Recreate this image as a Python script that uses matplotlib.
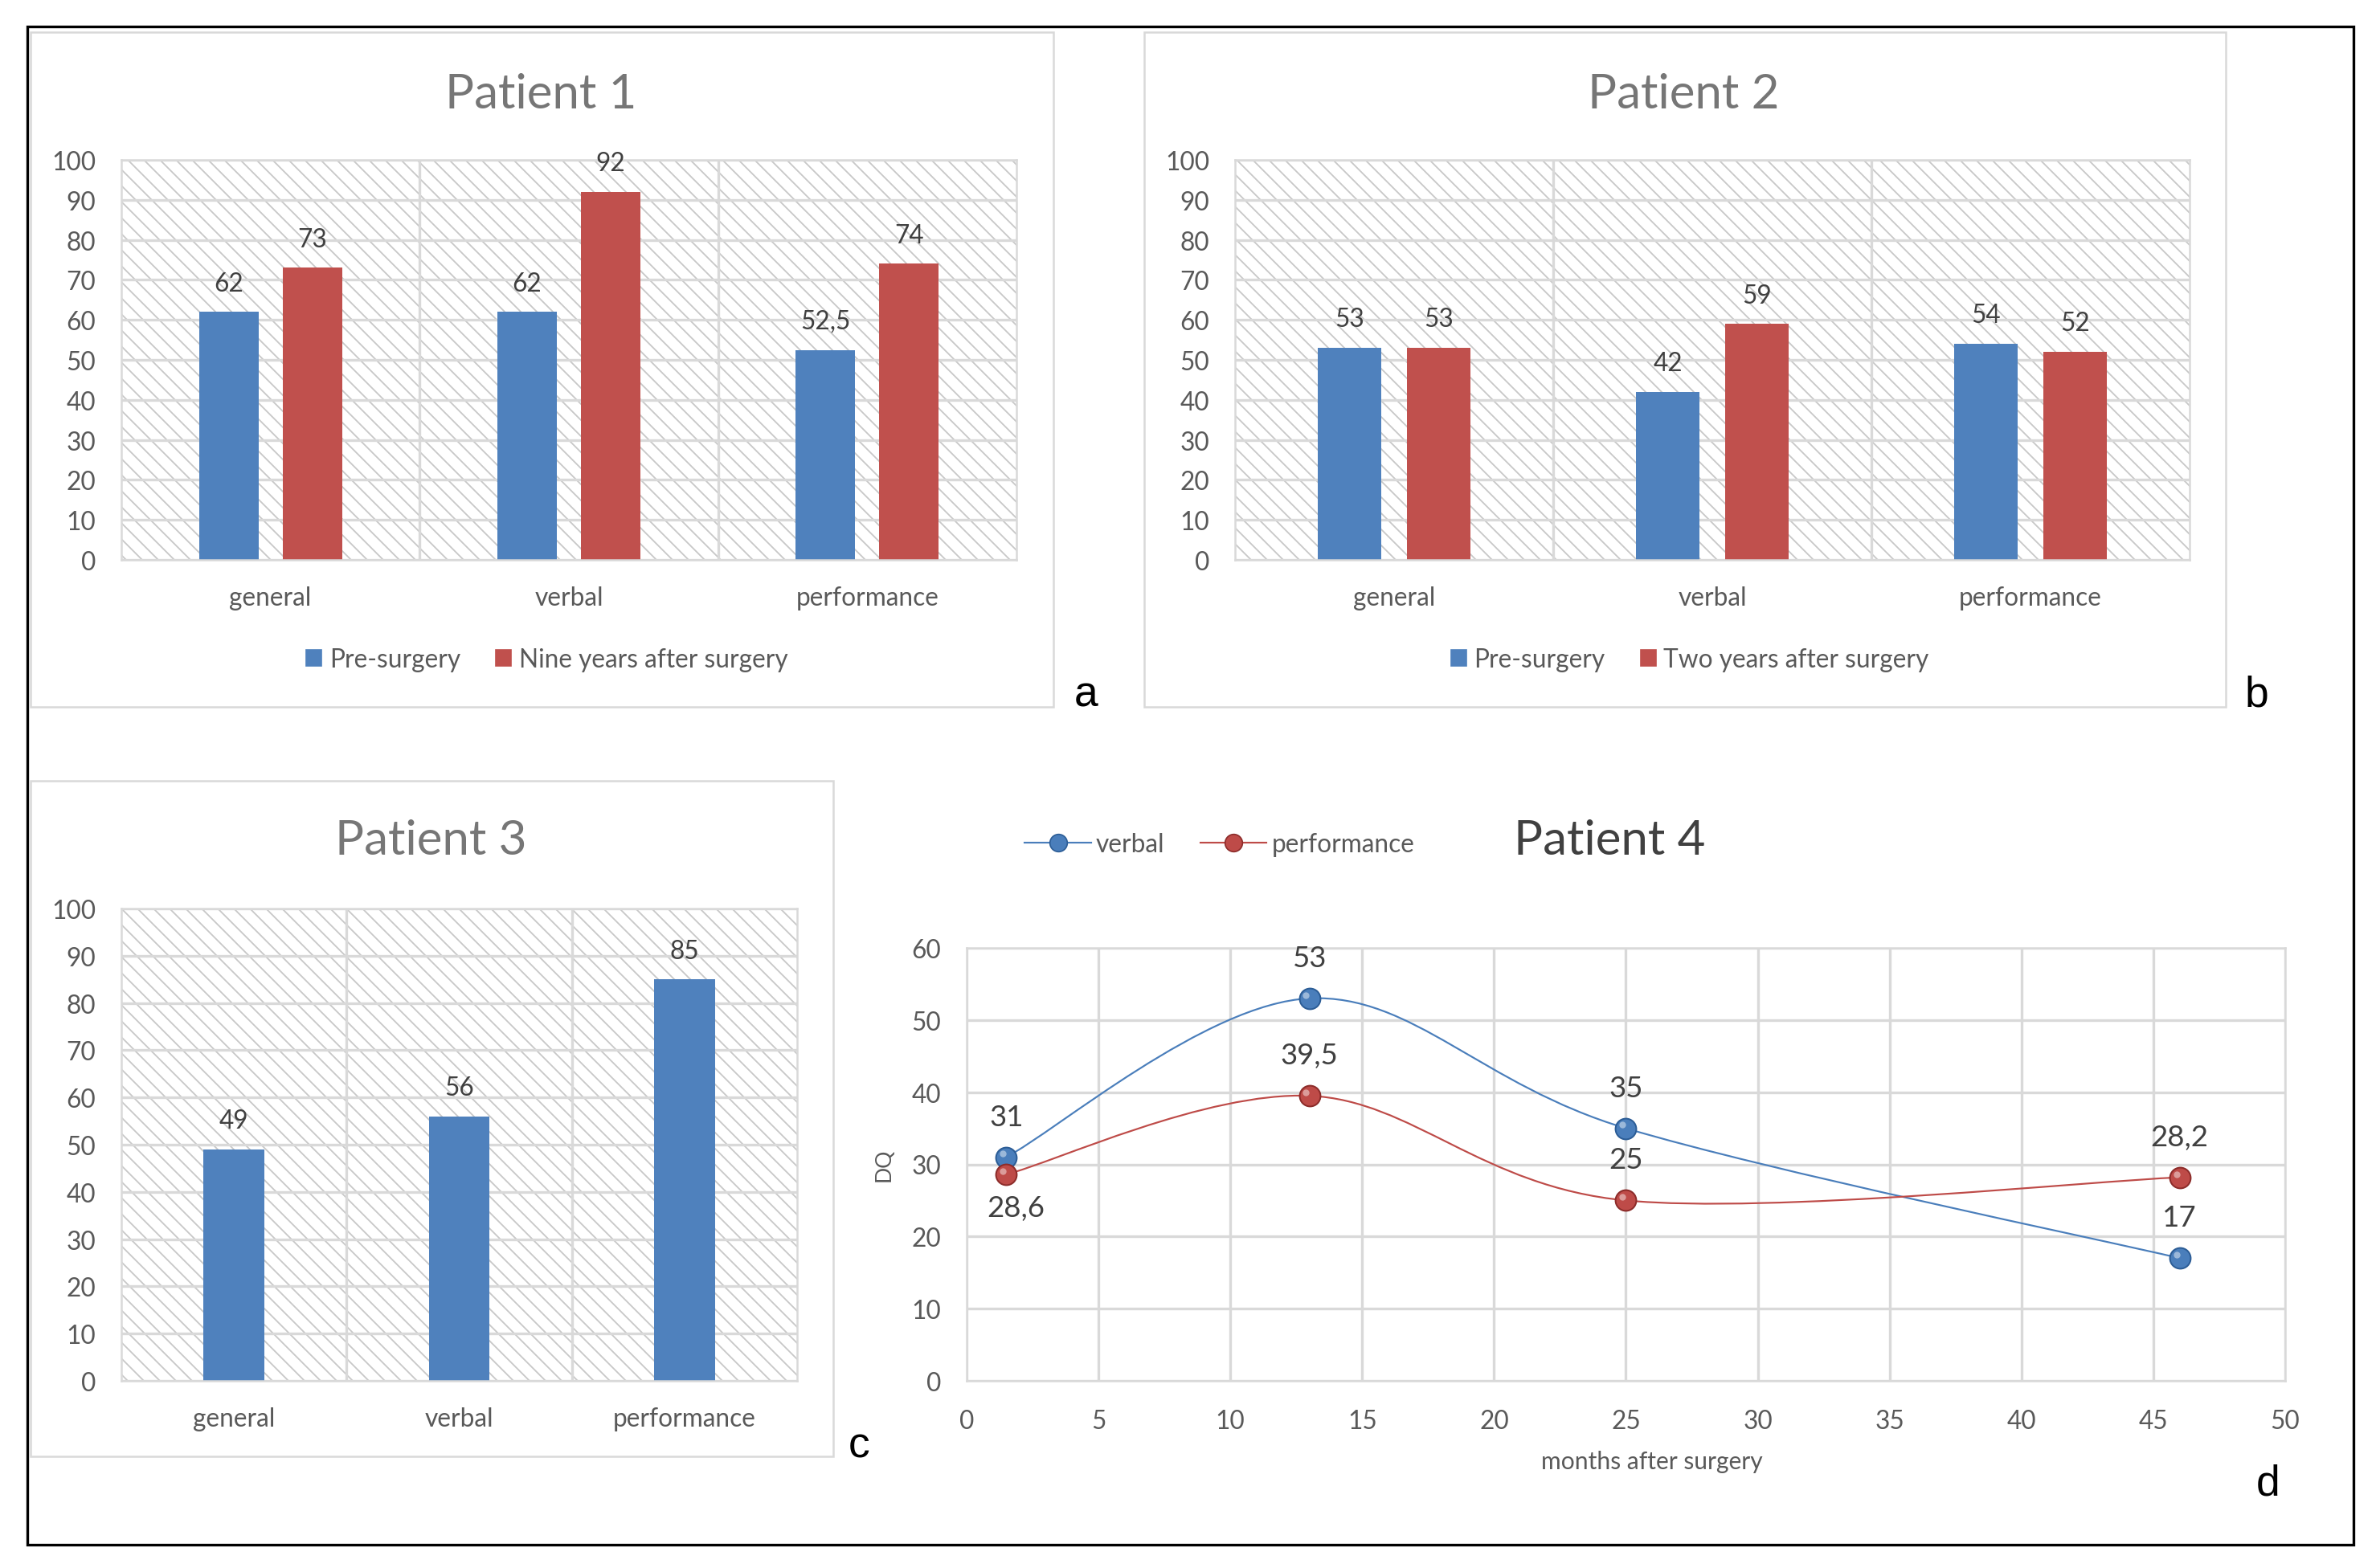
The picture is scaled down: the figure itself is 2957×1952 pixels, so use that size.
import numpy as np
import matplotlib
matplotlib.use("Agg")
import matplotlib.pyplot as plt
from matplotlib.patches import Rectangle, Patch, PathPatch
from matplotlib.path import Path
from matplotlib.lines import Line2D
from matplotlib.ticker import MultipleLocator, FixedLocator
import matplotlib.transforms as mtransforms

# data
categories = ["general", "verbal", "performance"]
p1_pre = [62, 62, 52.5]
p1_post = [73, 92, 74]
p2_pre = [53, 42, 54]
p2_post = [53, 59, 52]
p3_vals = [49, 56, 85]
p4_months = [1.5, 13, 25, 46]
p4_verbal = [31, 53, 35, 17]
p4_perf = [28.6, 39.5, 25, 28.2]

BLUE = "#4f81bd"
RED = "#c0504d"
GRID = "#d9d9d9"
TXT = "#595959"

plt.rcParams["font.family"] = ["Lato", "DejaVu Sans"]
plt.rcParams["hatch.linewidth"] = 1.1

DPI = 120
fig = plt.figure(figsize=(2957 / DPI, 1953 / DPI), dpi=DPI)


def fmt(v):
    s = ("%g" % v)
    return s.replace(".", ",")


def panel_box(x0, y0, x1, y1, **kw):
    W, H = 2957, 1953
    r = Rectangle((x0 / W, 1 - y1 / H), (x1 - x0) / W, (y1 - y0) / H,
                  transform=fig.transFigure, fill=False, **kw)
    fig.patches.append(r)


def ax_rect(x0, y0, x1, y1):
    W, H = 2957, 1953
    return [x0 / W, 1 - y1 / H, (x1 - x0) / W, (y1 - y0) / H]


def style_bar_axes(ax, n):
    ax.set_xlim(-0.5, n - 0.5)
    ax.set_ylim(0, 100)
    ax.add_patch(Rectangle((0, 0), 1, 1, transform=ax.transAxes, facecolor="white",
                           edgecolor="#c8c8c8", lw=0, hatch="\\\\", zorder=0.1))
    ax.yaxis.set_major_locator(MultipleLocator(10))
    ax.set_xticks(range(n))
    ax.set_xticklabels(categories[:n])
    ax.xaxis.set_minor_locator(FixedLocator([i + 0.5 for i in range(n - 1)]))
    ax.set_axisbelow(True)
    ax.grid(axis="y", which="major", color=GRID, lw=2.0)
    ax.grid(axis="x", which="minor", color=GRID, lw=2.0)
    for s in ax.spines.values():
        s.set_color(GRID)
        s.set_linewidth(1.5)
    ax.tick_params(axis="y", length=0, pad=19, labelsize=19, labelcolor=TXT)
    ax.tick_params(axis="x", which="both", length=0, pad=19, labelsize=19, labelcolor=TXT)


def bar_labels(ax, xs, vals):
    for x, v in zip(xs, vals):
        ax.annotate(fmt(v), (x, v), xytext=(0, 16), textcoords="offset points",
                    ha="center", va="baseline", fontsize=19, color="#404040")


# frame round everything
fig.patches.append(Rectangle((34 / 2957, 1 - 1924 / 1953), 2895 / 2957, 1890 / 1953,
                             transform=fig.transFigure, fill=False, edgecolor="black", lw=2))

# Panel a
panel_box(38, 41, 1311, 881, edgecolor=GRID, lw=1.5)
ax1 = fig.add_axes(ax_rect(151, 200, 1265, 698))
style_bar_axes(ax1, 3)
x = np.arange(3)
ax1.bar(x - 0.14, p1_pre, 0.2, color=BLUE, zorder=2)
ax1.bar(x + 0.14, p1_post, 0.2, color=RED, zorder=2)
bar_labels(ax1, x - 0.14, p1_pre)
bar_labels(ax1, x + 0.14, p1_post)
fig.text(673 / 2957, 1 - 118 / 1953, "Patient 1", ha="center", va="center",
         fontsize=36, color="#767676")
fig.legend(handles=[Patch(color=BLUE, label="Pre-surgery"),
                    Patch(color=RED, label="Nine years after surgery")],
           loc="center", bbox_to_anchor=(681 / 2957, 1 - 822 / 1953), ncol=2,
           frameon=False, fontsize=19, labelcolor=TXT, handlelength=0.6, handleheight=0.6,
           handletextpad=0.3, columnspacing=1.4)
fig.text(1352 / 2957, 1 - 866 / 1953, "a", ha="center", va="center", fontsize=32,
         family="Liberation Sans")

# Panel b
panel_box(1424, 41, 2770, 881, edgecolor=GRID, lw=1.5)
ax2 = fig.add_axes(ax_rect(1537, 200, 2725, 698))
style_bar_axes(ax2, 3)
ax2.bar(x - 0.14, p2_pre, 0.2, color=BLUE, zorder=2)
ax2.bar(x + 0.14, p2_post, 0.2, color=RED, zorder=2)
bar_labels(ax2, x - 0.14, p2_pre)
bar_labels(ax2, x + 0.14, p2_post)
fig.text(2095 / 2957, 1 - 118 / 1953, "Patient 2", ha="center", va="center",
         fontsize=36, color="#767676")
fig.legend(handles=[Patch(color=BLUE, label="Pre-surgery"),
                    Patch(color=RED, label="Two years after surgery")],
           loc="center", bbox_to_anchor=(2103 / 2957, 1 - 822 / 1953), ncol=2,
           frameon=False, fontsize=19, labelcolor=TXT, handlelength=0.6, handleheight=0.6,
           handletextpad=0.3, columnspacing=1.4)
fig.text(2808 / 2957, 1 - 866 / 1953, "b", ha="center", va="center", fontsize=32,
         family="Liberation Sans")

# Panel c
panel_box(38, 973, 1037, 1814, edgecolor=GRID, lw=1.5)
ax3 = fig.add_axes(ax_rect(151, 1132, 992, 1720))
style_bar_axes(ax3, 3)
ax3.bar(x, p3_vals, 0.27, color=BLUE, zorder=2)
bar_labels(ax3, x, p3_vals)
fig.text(536 / 2957, 1 - 1047 / 1953, "Patient 3", ha="center", va="center",
         fontsize=36, color="#767676")
fig.text(1069 / 2957, 1 - 1801 / 1953, "c", ha="center", va="center", fontsize=32,
         family="Liberation Sans")


# Panel d
def smooth_path(xs, ys):
    pts = np.column_stack([xs, ys]).astype(float)
    n = len(pts)
    verts = [pts[0]]
    codes = [Path.MOVETO]
    for i in range(n - 1):
        p0 = pts[max(i - 1, 0)]
        p1 = pts[i]
        p2 = pts[i + 1]
        p3 = pts[min(i + 2, n - 1)]
        verts += [p1 + (p2 - p0) / 6, p2 - (p3 - p1) / 6, p2]
        codes += [Path.CURVE4] * 3
    return Path(verts, codes)


ax4 = fig.add_axes(ax_rect(1203, 1181, 2844, 1720))
ax4.set_xlim(0, 50)
ax4.set_ylim(0, 60)
ax4.xaxis.set_major_locator(MultipleLocator(5))
ax4.yaxis.set_major_locator(MultipleLocator(10))
ax4.set_axisbelow(True)
ax4.grid(True, color=GRID, lw=2.0)
for s in ax4.spines.values():
    s.set_color(GRID)
    s.set_linewidth(1.5)
ax4.tick_params(axis="y", length=0, pad=19, labelsize=19, labelcolor=TXT)
ax4.tick_params(axis="x", length=0, pad=21, labelsize=19, labelcolor=TXT)

hl = mtransforms.offset_copy(ax4.transData, fig=fig, x=-2.5, y=2.5, units="points")
for ys, col, dark in [(p4_verbal, "#4a7ebb", "#2c5d96"), (p4_perf, "#be4b48", "#8c2c2a")]:
    ax4.add_patch(PathPatch(smooth_path(p4_months, ys), facecolor="none", edgecolor=col,
                            lw=1.3, zorder=3))
    ax4.plot(p4_months, ys, "o", ms=15.5, color=col, mec=dark, mew=1.2, zorder=4)
    ax4.plot(p4_months, ys, "o", ms=5, color="white", alpha=0.45, mew=0, zorder=5,
             transform=hl)

for i, (xm, v) in enumerate(zip(p4_months, p4_verbal)):
    ax4.annotate(fmt(v), (xm, v), xytext=(0, 24), textcoords="offset points",
                 ha="center", va="baseline", fontsize=22, color="#404040")
for i, (xm, v) in enumerate(zip(p4_months, p4_perf)):
    if i == 0:
        ax4.annotate(fmt(v), (xm, v), xytext=(7, -15), textcoords="offset points",
                     ha="center", va="top", fontsize=22, color="#404040")
    else:
        ax4.annotate(fmt(v), (xm, v), xytext=(0, 24), textcoords="offset points",
                     ha="center", va="baseline", fontsize=22, color="#404040")

ax4.set_ylabel("DQ", fontsize=16, color=TXT)
ax4.yaxis.set_label_coords(-0.055, 0.5)
fig.text(2056 / 2957, 1 - 1820 / 1953, "months after surgery", ha="center", va="center",
         fontsize=18, color=TXT)
fig.text(2003 / 2957, 1 - 1047 / 1953, "Patient 4", ha="center", va="center",
         fontsize=36, color="#404040")
fig.legend(handles=[Line2D([], [], color="#4a7ebb", lw=1.3, marker="o", ms=13,
                           mec="#2c5d96", label="verbal"),
                    Line2D([], [], color="#be4b48", lw=1.3, marker="o", ms=13,
                           mec="#8c2c2a", label="performance")],
           loc="center", bbox_to_anchor=(1518 / 2957, 1 - 1052 / 1953), ncol=2,
           frameon=False, fontsize=19, labelcolor=TXT, handlelength=2.6,
           handletextpad=0.2, columnspacing=1.4)
fig.text(2823 / 2957, 1 - 1848 / 1953, "d", ha="center", va="center", fontsize=32,
         family="Liberation Sans")

fig.savefig("out.png", dpi=DPI, facecolor="white")
